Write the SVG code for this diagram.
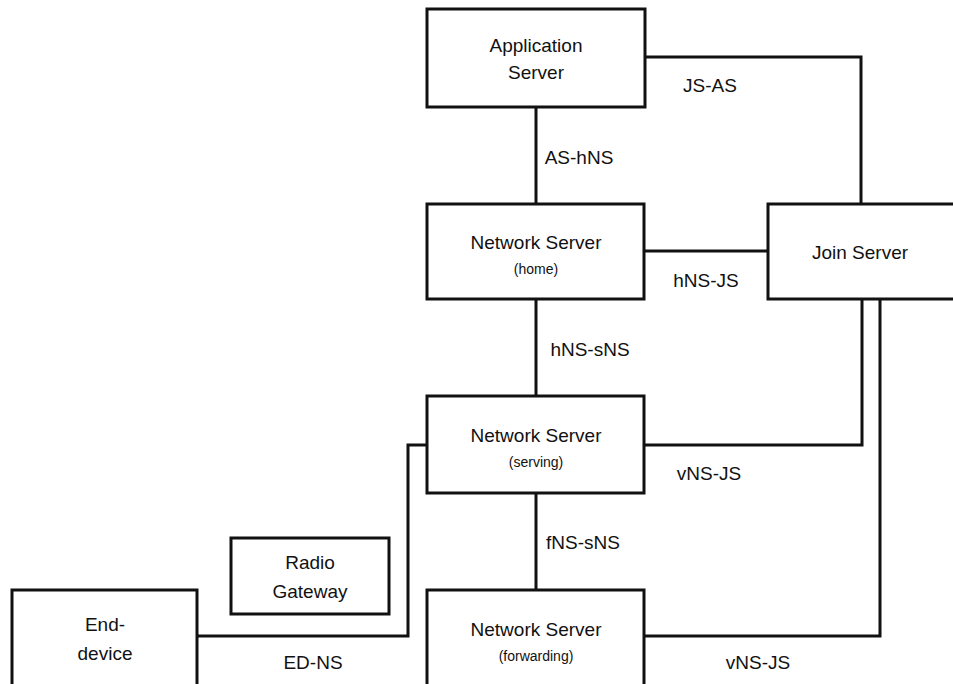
<svg xmlns="http://www.w3.org/2000/svg" width="953" height="684" viewBox="0 0 953 684">
<style>
.box{fill:#fff;stroke:#111;stroke-width:3}
.ln{fill:none;stroke:#111;stroke-width:3}
text{font-family:"Liberation Sans",Arial,sans-serif;fill:#111;text-anchor:middle}
.t{font-size:19px}
.s{font-size:14px}
.l{font-size:19px}
</style>
<rect width="953" height="684" fill="#fff"/>
<g id="connectors">
<path class="ln" d="M536,107 V204"/>
<path class="ln" d="M645,57 H861 V204"/>
<path class="ln" d="M644,251 H768"/>
<path class="ln" d="M536,299 V396"/>
<path class="ln" d="M644,445 H862 V299"/>
<path class="ln" d="M880,299 V636 H644"/>
<path class="ln" d="M536,493 V590"/>
<path class="ln" d="M197,636 H408 V445 H427"/>
<text class="l" x="710" y="92">JS-AS</text>
<text class="l" x="579" y="164">AS-hNS</text>
<text class="l" x="706" y="287">hNS-JS</text>
<text class="l" x="590" y="356">hNS-sNS</text>
<text class="l" x="709" y="480">vNS-JS</text>
<text class="l" x="583" y="549">fNS-sNS</text>
<text class="l" x="313" y="669">ED-NS</text>
<text class="l" x="758" y="669">vNS-JS</text>
</g>
<g id="app-server">
<rect class="box" x="427" y="9" width="218" height="98"/>
<text class="t" x="536" y="52">Application</text>
<text class="t" x="536" y="79">Server</text>
</g>
<g id="ns-home">
<rect class="box" x="427" y="204" width="217" height="95"/>
<text class="t" x="536" y="249">Network Server</text>
<text class="s" x="536" y="274">(home)</text>
</g>
<g id="join-server">
<rect class="box" x="768" y="204" width="187" height="95"/>
<text class="t" x="860" y="259">Join Server</text>
</g>
<g id="ns-serving">
<rect class="box" x="427" y="396" width="217" height="97"/>
<text class="t" x="536" y="442">Network Server</text>
<text class="s" x="536" y="467">(serving)</text>
</g>
<g id="radio-gateway">
<rect class="box" x="231" y="538" width="158" height="76"/>
<text class="t" x="310" y="569">Radio</text>
<text class="t" x="310" y="598">Gateway</text>
</g>
<g id="end-device">
<rect class="box" x="12" y="590" width="185" height="100"/>
<text class="t" x="105" y="631">End-</text>
<text class="t" x="105" y="660">device</text>
</g>
<g id="ns-forwarding">
<rect class="box" x="427" y="590" width="217" height="100"/>
<text class="t" x="536" y="636">Network Server</text>
<text class="s" x="536" y="661">(forwarding)</text>
</g>
</svg>
